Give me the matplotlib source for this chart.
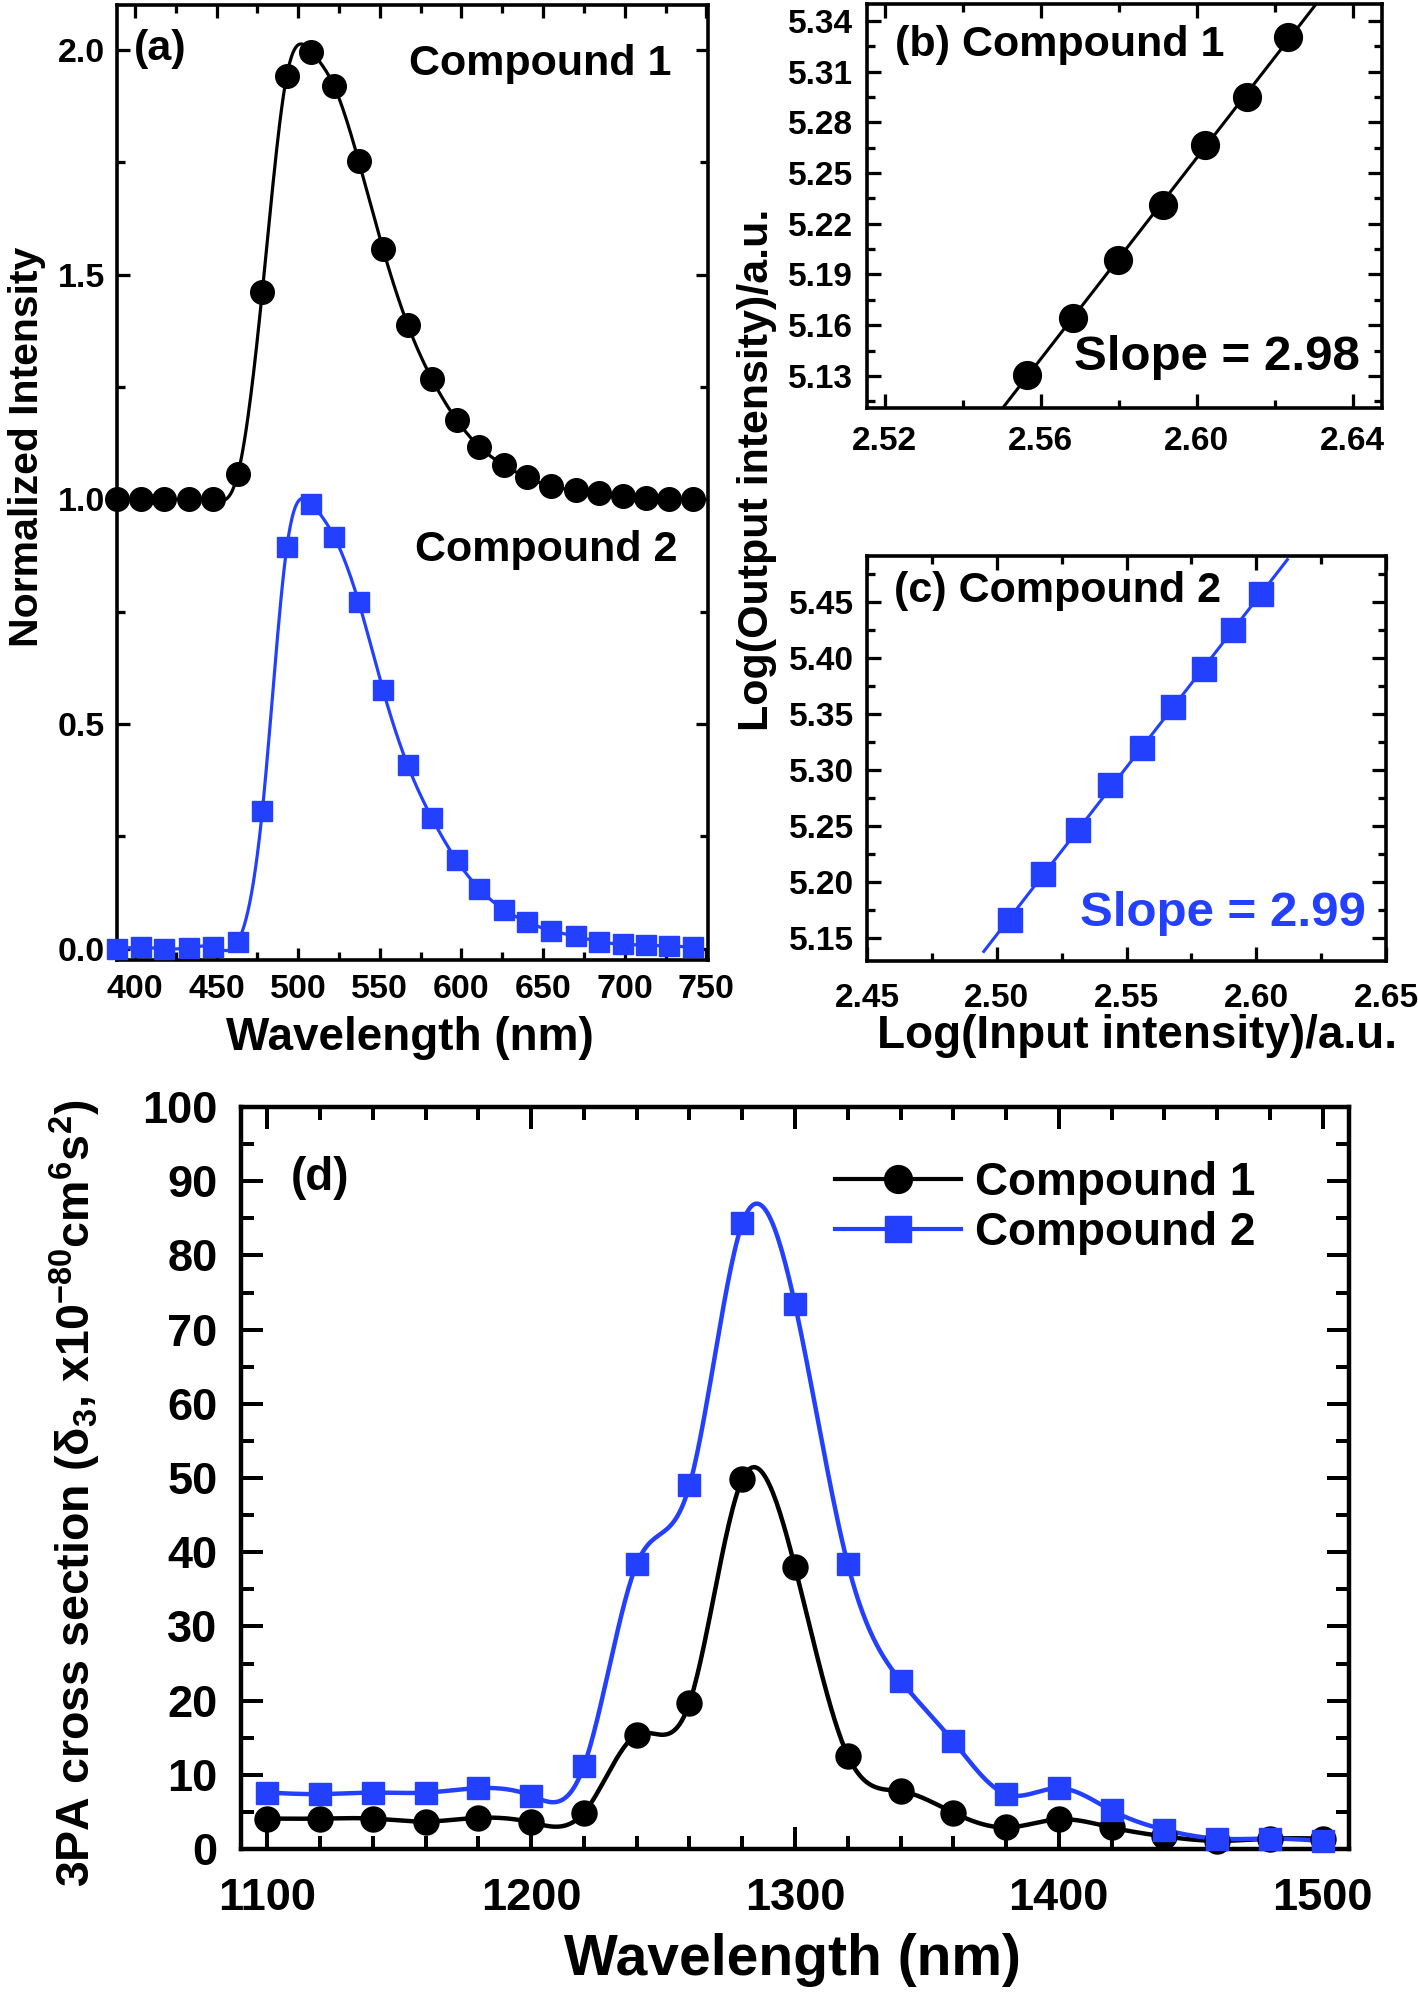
import numpy as np
import matplotlib
matplotlib.use("Agg")
import matplotlib.pyplot as plt
from matplotlib.ticker import MultipleLocator, FormatStrFormatter

W, H = 1418, 1992
BLUE = "#2340FF"

plt.rcParams["font.family"] = ["Liberation Sans", "DejaVu Sans"]
plt.rcParams["font.weight"] = "bold"
plt.rcParams["mathtext.fontset"] = "custom"
plt.rcParams["mathtext.rm"] = "Liberation Sans:bold"
plt.rcParams["mathtext.default"] = "regular"

# (a) emission spectra
em_wl = [389, 404, 418, 433, 448, 463, 478, 493, 508, 522, 537, 552, 567,
         582, 597, 611, 626, 640, 655, 670, 684, 699, 713, 727, 742]
em_c1 = [1.0, 1.0, 1.0, 1.0, 1.0, 1.056, 1.462, 1.943, 1.996, 1.919, 1.753,
         1.556, 1.389, 1.267, 1.177, 1.117, 1.076, 1.049, 1.029, 1.020,
         1.014, 1.008, 1.002, 1.0, 1.0]
em_c2 = [0.0, 0.003, 0.0, 0.002, 0.004, 0.016, 0.306, 0.893, 0.99, 0.917,
         0.772, 0.575, 0.409, 0.290, 0.197, 0.133, 0.087, 0.060, 0.040,
         0.028, 0.016, 0.010, 0.008, 0.006, 0.004]

# (b) compound 1 log-log
b_in = [2.5565, 2.5682, 2.5797, 2.5912, 2.6021, 2.6130, 2.6234]
b_out = [5.1304, 5.1645, 5.1988, 5.2312, 5.2665, 5.2951, 5.3307]
b_fit_range = [2.549, 2.632]

# (c) compound 2 log-log
c_in = [2.5050, 2.5180, 2.5313, 2.5438, 2.5559, 2.5680, 2.5798, 2.5910, 2.6017]
c_out = [5.1659, 5.2064, 5.2465, 5.2863, 5.3197, 5.3561, 5.3904, 5.4248, 5.4567]
c_fit_range = [2.495, 2.612]

# (d) 3PA cross section
tpa_wl = [1100, 1120, 1140, 1160, 1180, 1200, 1220, 1240, 1260, 1280, 1300,
          1320, 1340, 1360, 1380, 1400, 1420, 1440, 1460, 1480, 1500]
tpa_c1 = [4.1, 4.1, 4.1, 3.7, 4.2, 3.6, 4.9, 15.4, 19.7, 49.8, 38.0,
          12.6, 7.8, 4.9, 2.9, 4.0, 2.9, 1.7, 1.1, 1.4, 1.4]
tpa_c2 = [7.6, 7.4, 7.6, 7.6, 8.2, 7.2, 11.2, 38.4, 49.0, 84.3, 73.4,
          38.4, 22.7, 14.5, 7.4, 8.2, 5.2, 2.6, 1.4, 1.4, 1.1]


def spline(x, y, n=600):
    # natural cubic spline, only used to draw the smooth connecting line
    x = np.asarray(x, float)
    y = np.asarray(y, float)
    k = len(x)
    h = np.diff(x)
    A = np.zeros((k, k))
    r = np.zeros(k)
    A[0, 0] = A[-1, -1] = 1.0
    for i in range(1, k - 1):
        A[i, i - 1] = h[i - 1]
        A[i, i] = 2 * (h[i - 1] + h[i])
        A[i, i + 1] = h[i]
        r[i] = 6 * ((y[i + 1] - y[i]) / h[i] - (y[i] - y[i - 1]) / h[i - 1])
    M = np.linalg.solve(A, r)
    xs = np.linspace(x[0], x[-1], n)
    j = np.clip(np.searchsorted(x, xs) - 1, 0, k - 2)
    t0 = x[j + 1] - xs
    t1 = xs - x[j]
    hj = h[j]
    ys = (M[j] * t0 ** 3 + M[j + 1] * t1 ** 3) / (6 * hj) \
        + (y[j] / hj - M[j] * hj / 6) * t0 + (y[j + 1] / hj - M[j + 1] * hj / 6) * t1
    return xs, ys


def px_axes(fig, left, top, right, bottom):
    return fig.add_axes([left / W, 1 - bottom / H, (right - left) / W, (bottom - top) / H])


def style(ax, size, xpad, ypad, major_len=10, minor_len=6, lw=2.6):
    for s in ax.spines.values():
        s.set_linewidth(lw)
    ax.tick_params(which="both", direction="in", top=True, right=True,
                   width=lw * 0.9, labelsize=size)
    ax.tick_params(which="major", length=major_len)
    ax.tick_params(which="minor", length=minor_len)
    ax.tick_params(axis="x", pad=xpad)
    ax.tick_params(axis="y", pad=ypad)
    for lab in ax.get_xticklabels() + ax.get_yticklabels():
        lab.set_fontweight("bold")


def fig_text(fig, x, y, s, **kw):
    kw.setdefault("ha", "center")
    kw.setdefault("va", "center")
    fig.text(x / W, 1 - y / H, s, fontweight="bold", **kw)


fig = plt.figure(figsize=(W / 100, H / 100), dpi=100)

# ---- (a)
ax = px_axes(fig, 117, 5, 708, 960)
xs, ys = spline(em_wl, em_c1)
ax.plot(xs, ys, color="black", lw=2.3, clip_on=False)
ax.plot(em_wl, em_c1, "o", color="black", ms=17, clip_on=False, zorder=5)
xs, ys = spline(em_wl, em_c2)
ax.plot(xs, ys, color=BLUE, lw=2.3, clip_on=False)
ax.plot(em_wl, em_c2, "s", color=BLUE, ms=14.5, clip_on=False, zorder=5)
ax.set_xlim(389, 751)
ax.set_ylim(-0.025, 2.10)
ax.xaxis.set_major_locator(MultipleLocator(50))
ax.xaxis.set_minor_locator(MultipleLocator(25))
ax.yaxis.set_major_locator(MultipleLocator(0.5))
ax.yaxis.set_minor_locator(MultipleLocator(0.25))
ax.yaxis.set_major_formatter(FormatStrFormatter("%.1f"))
style(ax, 24.5, xpad=10, ypad=8.5, major_len=9, minor_len=5.5)
fig_text(fig, 134, 49, "(a)", fontsize=31, ha="left")
fig_text(fig, 540, 64, "Compound 1", fontsize=31)
fig_text(fig, 546, 550, "Compound 2", fontsize=31)
fig_text(fig, 410, 1038, "Wavelength (nm)", fontsize=33)
fig_text(fig, 27, 447, "Normalized Intensity", fontsize=29.5, rotation=90)

# ---- (b)
ax = px_axes(fig, 867, 4, 1382, 408)
p = np.polyfit(b_in, b_out, 1)
fx = np.array(b_fit_range)
ax.plot(fx, np.polyval(p, fx), color="black", lw=2.2)
ax.plot(b_in, b_out, "o", color="black", ms=20, zorder=5)
ax.set_xlim(2.5154, 2.6475)
ax.set_ylim(5.111, 5.350)
ax.xaxis.set_major_locator(MultipleLocator(0.04))
ax.xaxis.set_minor_locator(MultipleLocator(0.02))
ax.yaxis.set_major_locator(MultipleLocator(0.03))
ax.yaxis.set_minor_locator(MultipleLocator(0.015))
ax.xaxis.set_major_formatter(FormatStrFormatter("%.2f"))
ax.yaxis.set_major_formatter(FormatStrFormatter("%.2f"))
style(ax, 24, xpad=13, ypad=10)
fig_text(fig, 1060, 45, "(b) Compound 1", fontsize=31)
fig_text(fig, 1217, 357, "Slope = 2.98", fontsize=35.5)

# ---- (c)
ax = px_axes(fig, 867, 556, 1386, 961)
p = np.polyfit(c_in, c_out, 1)
fx = np.array(c_fit_range)
ax.plot(fx, np.polyval(p, fx), color=BLUE, lw=2.2)
ax.plot(c_in, c_out, "s", color=BLUE, ms=17.5, zorder=5)
ax.set_xlim(2.45, 2.65)
ax.set_ylim(5.129, 5.491)
ax.xaxis.set_major_locator(MultipleLocator(0.05))
ax.xaxis.set_minor_locator(MultipleLocator(0.025))
ax.yaxis.set_major_locator(MultipleLocator(0.05))
ax.yaxis.set_minor_locator(MultipleLocator(0.025))
ax.xaxis.set_major_formatter(FormatStrFormatter("%.2f"))
ax.yaxis.set_major_formatter(FormatStrFormatter("%.2f"))
style(ax, 24, xpad=16, ypad=9.5)
fig_text(fig, 1058, 591, "(c) Compound 2", fontsize=31)
fig_text(fig, 1223, 914, "Slope = 2.99", fontsize=35.5, color=BLUE)
fig_text(fig, 1137, 1036, "Log(Input intensity)/a.u.", fontsize=33)
fig_text(fig, 757, 470, "Log(Output intensity)/a.u.", fontsize=31, rotation=90)

# ---- (d)
ax = px_axes(fig, 241, 1107, 1349, 1849)
xs, ys = spline(tpa_wl, tpa_c1)
ax.plot(xs, ys, color="black", lw=3.2)
xs, ys = spline(tpa_wl, tpa_c2)
ax.plot(xs, ys, color=BLUE, lw=3.2)
ax.plot(tpa_wl, tpa_c1, "o", color="black", ms=18, clip_on=False, zorder=5)
ax.plot(tpa_wl, tpa_c2, "s", color=BLUE, ms=16.5, clip_on=False, zorder=5)
ax.plot([], [], "-o", color="black", lw=3, ms=20, label="Compound 1")
ax.plot([], [], "-s", color=BLUE, lw=3, ms=19, label="Compound 2")
ax.set_xlim(1090, 1510)
ax.set_ylim(0, 100)
ax.xaxis.set_major_locator(MultipleLocator(100))
ax.xaxis.set_minor_locator(MultipleLocator(20))
ax.yaxis.set_major_locator(MultipleLocator(10))
ax.yaxis.set_minor_locator(MultipleLocator(5))
style(ax, 32.5, xpad=21, ypad=17, major_len=16, minor_len=9.5, lw=3.2)
fig_text(fig, 320, 1178, "(d)", fontsize=33)
leg = ax.legend(loc="upper left", bbox_to_anchor=(0.536, 0.927), frameon=False,
                fontsize=33, handlelength=2.75, handletextpad=0.3, labelspacing=0.13,
                borderpad=0, borderaxespad=0)
for t in leg.get_texts():
    t.set_fontweight("bold")
fig_text(fig, 793, 1975, "Wavelength (nm)", fontsize=41, va="baseline")
fig_text(fig, 75, 1493, r"3PA cross section (δ$_3$, x10$^{-80}$cm$^6$s$^2$)", fontsize=33.5,
         rotation=90)

fig.savefig("out.png", dpi=100)
